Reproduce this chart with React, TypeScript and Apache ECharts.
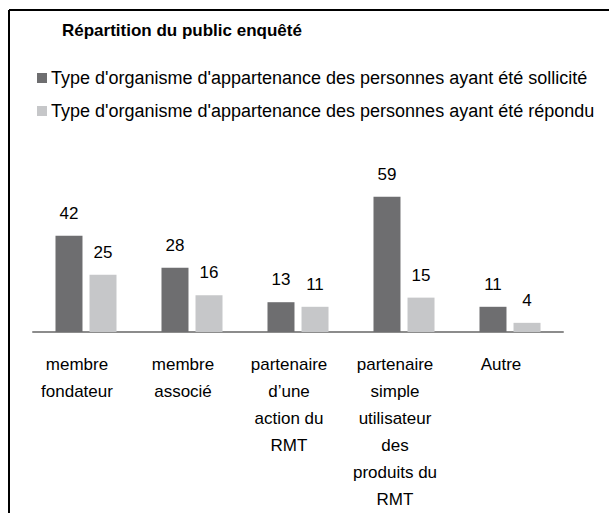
import React, { useEffect, useRef } from "react";
import * as echarts from "echarts";

const title = "Répartition du public enquêté";
const categories = [
  "membre\nfondateur",
  "membre\nassocié",
  "partenaire\nd’une\naction du\nRMT",
  "partenaire\nsimple\nutilisateur\ndes\nproduits du\nRMT",
  "Autre",
];
const seriesNames = [
  "Type d'organisme d'appartenance des personnes ayant été sollicité",
  "Type d'organisme d'appartenance des personnes ayant été répondu",
];
const sollicite = [42, 28, 13, 59, 11];
const repondu = [25, 16, 11, 15, 4];

const FONT = "'Liberation Sans', Arial, sans-serif";

export default function App() {
  const ref = useRef<HTMLDivElement>(null);
  useEffect(() => {
    if (!ref.current) return;
    const chart = echarts.init(ref.current, null, { renderer: "svg" });
    chart.setOption({
      animation: false,
      backgroundColor: "#ffffff",
      textStyle: { fontFamily: FONT },
      title: {
        text: title,
        left: 62,
        top: 22,
        padding: 0,
        textStyle: { fontFamily: FONT, fontSize: 17, fontWeight: "bold", color: "#000" },
      },
      legend: {
        orient: "vertical",
        left: 37,
        top: 67,
        padding: 0,
        itemWidth: 10,
        itemHeight: 10,
        itemGap: 11,
        icon: "rect",
        textStyle: { fontFamily: FONT, fontSize: 18, color: "#000", lineHeight: 22, padding: [0, 0, 0, -1] },
        data: seriesNames,
      },
      graphic: [
        {
          type: "line",
          shape: { x1: 9, y1: 10, x2: 609, y2: 10 },
          style: { stroke: "#000", lineWidth: 2 },
          silent: true,
        },
        {
          type: "line",
          shape: { x1: 9, y1: 10, x2: 9, y2: 513 },
          style: { stroke: "#000", lineWidth: 2 },
          silent: true,
        },
      ],
      grid: { left: 33, right: 46, top: 171.6, bottom: 179, containLabel: false },
      xAxis: {
        type: "category",
        data: categories,
        axisLine: { show: true, lineStyle: { color: "#8c8c8c", width: 2 } },
        axisTick: { show: false },
        axisLabel: {
          interval: 0,
          fontFamily: FONT,
          fontSize: 17,
          color: "#000",
          lineHeight: 27,
          margin: 19,
          padding: [0, 18, 0, 0],
        },
      },
      yAxis: { type: "value", min: 0, max: 70, show: false, splitLine: { show: false } },
      series: [
        {
          name: seriesNames[0],
          type: "bar",
          data: sollicite,
          barWidth: 27,
          barGap: "26%",
          itemStyle: { color: "#6e6e70" },
          label: { show: true, position: "top", distance: 14, fontFamily: FONT, fontSize: 17, color: "#000" },
        },
        {
          name: seriesNames[1],
          type: "bar",
          data: repondu,
          barWidth: 27,
          barGap: "26%",
          itemStyle: { color: "#c6c7c9" },
          label: { show: true, position: "top", distance: 14, fontFamily: FONT, fontSize: 17, color: "#000" },
        },
      ],
    });
    return () => chart.dispose();
  }, []);
  return <div ref={ref} style={{ position: "fixed", left: 0, top: 0, width: 609, height: 513 }} />;
}
